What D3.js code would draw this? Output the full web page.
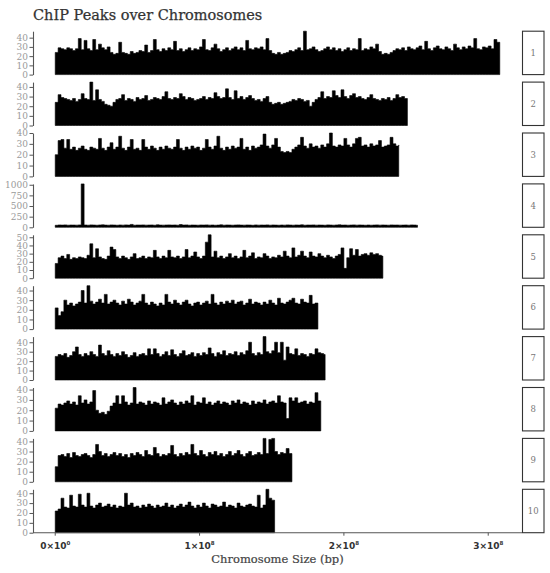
<!DOCTYPE html>
<html>
<head>
<meta charset="utf-8">
<script src="https://cdn.jsdelivr.net/npm/d3@7"></script>
<style>
  html, body { margin: 0; padding: 0; background: #fff; }
  svg { display: block; }
</style>
</head>
<body>
<svg id="chart" width="550" height="573"></svg>
<script>
// ---------------- DATA ----------------
const chromosomes = ["1", "2", "3", "4", "5", "6", "7", "8", "9", "10"];
const chromLengths = [308e6, 244e6, 238e6, 251e6, 227e6, 182e6, 187e6, 184e6, 164e6, 152e6];
const binSize = 2e6; // each value = peak height in a 2 Mb window

const chr1 = [24,29,28,27,29,28,26,28,39,27, 37,28,26,38,27,33,29,27,30,24, 22,23,35,24,23,22,25,23,24,26,
  25,32,24,26,38,27,25,28,26,29, 27,36,26,28,25,27,29,26,28,27, 30,38,27,26,29,33,28,25,27,29,
  26,28,30,27,29,26,37,28,27,29, 28,30,27,39,26,23,22,24,22,23, 24,26,25,27,29,26,47,27,28,30,
  27,25,26,28,30,27,29,26,28,25, 27,29,26,28,27,39,26,28,27,30, 28,33,25,22,23,22,24,26,28,27,
  29,26,30,28,27,29,31,27,36,28, 26,29,31,28,27,30,28,26,33,29, 27,30,28,31,29,39,28,27,30,29,
  31,28,38,35];
const chr2 = [24,32,29,28,27,26,28,25,27,33, 28,27,45,26,37,27,25,22,21,20, 24,27,28,32,26,28,27,25,29,27,
  28,31,26,27,29,28,27,30,35,28, 27,29,28,33,30,27,29,28,26,27, 28,30,27,29,28,34,30,28,29,38,
  29,27,36,28,30,27,29,31,28,26, 27,25,28,30,24,22,23,24,22,23, 24,25,27,26,28,27,25,26,20,24,
  27,29,35,28,30,29,36,31,29,37, 30,28,31,33,29,30,28,27,29,32, 28,27,26,28,27,29,26,28,32,29,
  30,28];
const chr3 = [20,33,34,26,34,25,27,24,26,28, 25,24,27,26,25,35,26,24,27,31, 25,27,37,26,24,27,34,25,26,24,
  34,27,25,28,26,24,27,25,28,26, 25,27,34,26,24,27,25,28,26,27, 24,26,34,27,25,28,37,26,24,27,
  25,28,26,27,35,25,27,24,28,26, 27,29,39,28,26,29,35,27,23,22, 23,22,25,27,29,36,28,26,30,27,
  28,26,29,27,30,40,28,27,29,28, 35,29,27,30,35,36,28,29,27,30, 28,29,33,27,28,29,36,30,28,29];
const chr4 = [48,55,52,57,50,54,53,51,56,1020, 54,50,57,53,49,55,58,52,50,56, 53,49,55,51,57,52,68,50,54,53,
  56,51,53,55,49,58,52,51,54,56, 52,55,50,64,53,56,49,54,52,50, 55,53,57,51,54,49,52,58,50,55,
  53,50,54,57,52,51,55,53,48,56, 51,54,52,57,50,55,52,49,54,51, 57,53,50,55,52,58,50,54,53,56,
  51,54,52,49,57,53,50,55,58,52, 54,50,53,57,51,55,52,49,54,50, 53,57,51,55,52,50,56,53,54,51,
  52,55,50,56,53,49];
const chr5 = [18,25,27,24,29,23,25,24,26,25, 24,28,42,25,36,26,24,23,27,38, 35,26,24,27,25,23,26,30,24,25,
  27,24,26,25,34,26,24,27,25,34, 26,25,27,24,26,35,25,27,32,26, 24,27,44,53,26,33,25,27,24,26,
  30,25,27,24,26,34,25,27,31,24, 26,25,30,27,24,26,25,28,26,33, 27,25,37,26,28,33,27,25,32,27,
  26,30,27,25,28,26,24,27,29,37, 12,25,36,28,35,27,29,30,28,31, 29,30,28,27];
const chr6 = [22,14,18,30,25,27,24,26,28,40, 27,45,29,26,28,31,27,36,26,28, 30,27,25,29,26,31,28,25,27,29,
  36,27,25,28,26,24,27,25,36,28, 26,30,27,25,28,30,26,24,27,28, 25,27,29,26,36,27,25,28,26,29,
  27,30,26,28,29,25,27,31,26,28, 27,25,28,26,30,27,25,32,27,26, 28,30,32,27,26,31,28,27,35,26,
  27];
const chr7 = [25,27,26,28,24,26,30,35,27,25, 28,26,30,27,25,37,28,26,31,27, 25,28,26,30,27,24,26,29,25,27,
  28,26,33,27,33,28,25,27,30,26, 32,27,25,28,31,26,27,29,25,28, 26,29,27,34,28,25,29,27,31,26,
  28,27,30,26,29,27,31,40,28,26, 29,27,46,30,28,31,40,29,40,21, 35,28,27,33,26,28,27,25,28,27,
  33,29,28,27];
const chr8 = [22,26,25,27,29,26,28,25,34,27, 30,26,28,39,20,17,18,16,19,24, 27,34,26,34,28,25,27,42,26,28,
  27,25,29,26,28,27,25,32,26,28, 30,27,25,28,26,29,27,34,25,28, 27,32,26,28,25,27,29,26,28,27,
  25,29,27,30,26,28,27,25,29,26, 28,27,30,26,28,29,27,34,28,27, 12,32,29,32,27,28,29,26,28,27,
  37,29];
const chr9 = [15,26,27,25,28,24,29,26,25,27, 28,26,24,27,37,30,26,28,25,27, 29,26,28,25,27,24,28,26,29,27,
  25,31,27,26,34,28,25,27,26,28, 36,27,25,28,26,29,27,37,28,26, 31,27,25,29,27,30,26,28,25,27,
  30,26,28,31,27,25,28,30,26,27, 29,27,43,28,42,43,30,27,29,28, 33,28];
const chr10 = [22,24,35,26,25,38,27,26,39,28, 26,40,27,25,28,30,26,27,29,26, 28,25,27,26,40,28,30,26,27,25,
  28,26,29,27,25,28,26,27,30,26, 28,25,27,29,26,28,31,27,25,28, 26,30,27,25,29,28,26,27,31,26,
  28,27,25,30,27,26,28,29,27,26, 38,25,28,44,35,33];
const peakValues = [chr1, chr2, chr3, chr4, chr5, chr6, chr7, chr8, chr9, chr10];

const yTickValues = [
  [0,10,20,30,40], [0,10,20,30,40], [0,10,20,30,40], [0,250,500,750,1000], [0,10,20,30,40,50],
  [0,10,20,30,40], [0,10,20,30,40], [0,10,20,30,40], [0,10,20,30,40], [0,10,20,30,40]
];
const xTickValues = [0, 1e8, 2e8, 3e8];
const xTickMantissa = ["0", "1", "2", "3"];
const xTickExponent = ["0", "8", "8", "8"];

const titleText = "ChIP Peaks over Chromosomes";
const xTitleText = "Chromosome Size (bp)";

// ---------------- LAYOUT ----------------
const svg = d3.select("#chart");
const panelLeft = 33, panelRight = 522;
const firstTop = 31.2, pitch = 50.9, panelH = 43.4;
const stripX = 522.5, stripW = 21.5;
const serif = "'DejaVu Serif', serif";

const maxLen = d3.max(chromLengths);
const x = d3.scaleLinear()
  .domain([-0.05 * maxLen, 1.05 * maxLen])
  .range([panelLeft, panelRight]);

svg.append("text")
  .attr("x", 33).attr("y", 20)
  .attr("font-family", serif).attr("font-size", 14.5)
  .attr("fill", "#333")
  .attr("stroke", "#333").attr("stroke-width", 0.25)
  .text(titleText);

chromosomes.forEach((name, k) => {
  const top = firstTop + k * pitch;
  const bottom = top + panelH;
  const vals = peakValues[k];
  const len = chromLengths[k];
  const y = d3.scaleLinear().domain([0, d3.max(vals)]).range([bottom, top]);

  const g = svg.append("g");

  const pts = vals.map((v, i) => ({ pos: i * binSize, v }));
  pts.push({ pos: len, v: vals[vals.length - 1] });

  const area = d3.area()
    .x(d => x(Math.min(d.pos, len)))
    .y0(y(0))
    .y1(d => y(d.v))
    .curve(d3.curveStepAfter);

  g.append("path")
    .datum(pts)
    .attr("d", area)
    .attr("fill", "#000")
    .attr("stroke", "#000")
    .attr("stroke-width", 0.6)
    .attr("stroke-linejoin", "miter");

  // y axis
  const ax = d3.axisLeft(y).tickValues(yTickValues[k]).tickFormat(d3.format("d"))
    .tickSize(3.5).tickSizeOuter(0).tickPadding(1.5);
  const ag = g.append("g").attr("transform", `translate(${panelLeft},0)`).call(ax);
  ag.select(".domain").attr("stroke", "#555").attr("stroke-width", 1.1);
  ag.selectAll(".tick line").attr("stroke", "#555").attr("stroke-width", 1);
  ag.selectAll(".tick text")
    .attr("font-family", serif).attr("font-size", 9).attr("fill", "#9a9a9a");

  // strip
  g.append("rect")
    .attr("x", stripX).attr("y", top).attr("width", stripW).attr("height", panelH)
    .attr("fill", "#fff").attr("stroke", "#333").attr("stroke-width", 1.1);
  g.append("text")
    .attr("x", stripX + stripW / 2).attr("y", top + panelH / 2)
    .attr("text-anchor", "middle").attr("dominant-baseline", "central")
    .attr("font-family", serif).attr("font-size", 8.5).attr("fill", "#777")
    .text(name);
});

// x axis (bottom panel)
const axisY = firstTop + 9 * pitch + panelH;
const xg = svg.append("g").attr("transform", `translate(0,${axisY})`);
xg.append("line")
  .attr("x1", panelLeft).attr("x2", panelRight)
  .attr("y1", 0).attr("y2", 0)
  .attr("stroke", "#555").attr("stroke-width", 1.1);
const xt = xg.selectAll("g.xtick").data(xTickValues).join("g")
  .attr("class", "xtick")
  .attr("transform", d => `translate(${x(d)},0)`);
xt.append("line").attr("y1", 0).attr("y2", 3).attr("stroke", "#555");
const xtt = xt.append("text")
  .attr("y", 16.5).attr("text-anchor", "middle")
  .attr("font-family", "'DejaVu Sans', sans-serif").attr("font-weight", "bold")
  .attr("font-size", 9).attr("fill", "#333");
xtt.append("tspan").text((d, i) => xTickMantissa[i] + "×10");
xtt.append("tspan").attr("dy", -4).attr("font-size", 5.5).text((d, i) => xTickExponent[i]);

svg.append("text")
  .attr("x", (panelLeft + panelRight) / 2).attr("y", 563)
  .attr("text-anchor", "middle")
  .attr("font-family", serif).attr("font-size", 11.5)
  .attr("fill", "#444")
  .attr("stroke", "#444").attr("stroke-width", 0.2)
  .text(xTitleText);
</script>
</body>
</html>
